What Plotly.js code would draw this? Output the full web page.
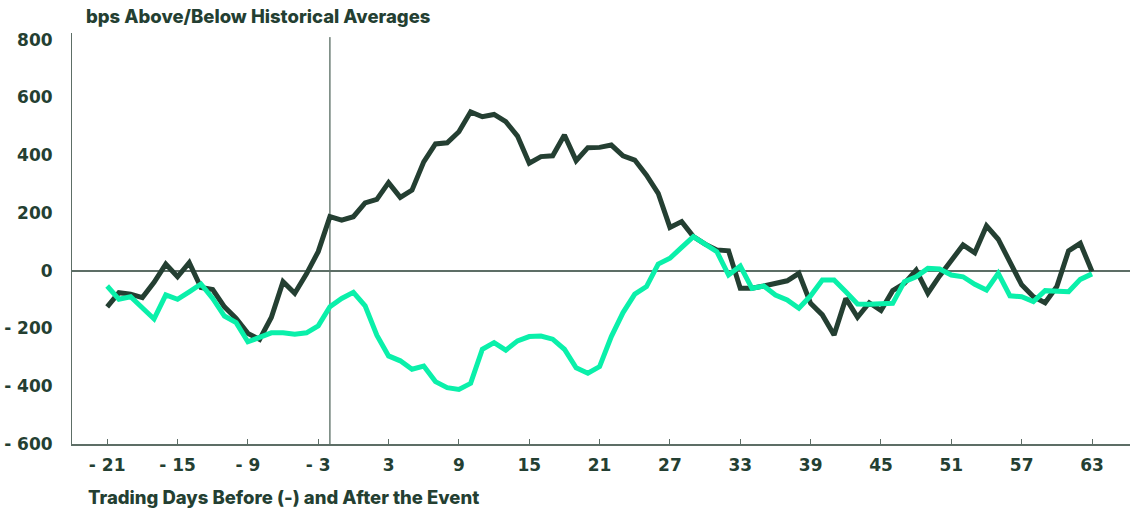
<!DOCTYPE html>
<html>
<head>
<meta charset="utf-8">
<script src="https://cdn.plot.ly/plotly-3.0.1.min.js"></script>
<style>
  html, body { margin: 0; padding: 0; background: #ffffff; }
  #chart { width: 1135px; height: 510px; }
</style>
</head>
<body>
<div id="chart"></div>
<script>
// Trading days relative to the event
const days = [];
for (let d = -21; d <= 63; d++) days.push(d);

// Dark series (bps above/below historical averages)
const seriesDark = [
  -125, -76, -81, -93, -40, 23, -21, 28, -58, -65,
  -125, -165, -217, -238, -162, -38, -78, -11, 66, 187,
  175, 187, 235, 247, 305, 254, 279, 377, 439, 443,
  481, 550, 533, 541, 516, 466, 372, 395, 398, 470,
  381, 426, 427, 435, 398, 383, 331, 268, 150, 170,
  118, 92, 72, 69, -61, -61, -53, -42, -35, -9,
  -113, -153, -223, -96, -161, -111, -138, -69, -44, 2,
  -78, -18, 37, 89, 62, 155, 109, 26, -49, -90,
  -111, -55, 69, 95, -3
];

// Bright green series
const seriesLight = [
  -53, -99, -90, -128, -167, -84, -99, -73, -46, -96,
  -157, -180, -246, -231, -215, -215, -220, -215, -191, -125,
  -96, -75, -122, -223, -295, -312, -341, -330, -384, -405,
  -411, -390, -272, -249, -275, -243, -228, -226, -237, -272,
  -336, -355, -332, -228, -145, -81, -55, 23, 43, 81,
  118, 92, 66, -15, 16, -61, -53, -84, -101, -130,
  -87, -32, -32, -73, -115, -116, -113, -113, -38, -21,
  8, 6, -15, -21, -47, -67, -9, -87, -90, -107,
  -69, -69, -73, -30, -11
];

const xTickVals = [-21, -15, -9, -3, 3, 9, 15, 21, 27, 33, 39, 45, 51, 57, 63];
const xTickText = ['- 21', '- 15', '- 9', '- 3', '3', '9', '15', '21', '27', '33', '39', '45', '51', '57', '63'];
const yTickVals = [-600, -400, -200, 0, 200, 400, 600, 800];
const yTickText = ['- 600', '- 400', '- 200', '0', '200', '400', '600', '800'];
const eventDay = -2;

const DARK = '#243f32';
const LIGHT = '#0af0aa';
const AXIS = '#5d6e66';
const FONT = 'Inter, "Open Sans", sans-serif';
const TICKFONT = '"DejaVu Sans", sans-serif';

const traces = [
  {
    x: days, y: seriesDark, type: 'scatter', mode: 'lines',
    line: { color: DARK, width: 5, shape: 'linear' },
    name: 'Dark', hoverinfo: 'x+y'
  },
  {
    x: days, y: seriesLight, type: 'scatter', mode: 'lines',
    line: { color: LIGHT, width: 5, shape: 'linear' },
    name: 'Light', hoverinfo: 'x+y'
  }
];

const layout = {
  width: 1135, height: 510,
  margin: { l: 72, r: 5, t: 33, b: 66 },
  paper_bgcolor: '#ffffff', plot_bgcolor: '#ffffff',
  showlegend: false,
  font: { family: FONT, color: DARK, size: 17, weight: 700 },
  title: {
    text: 'bps Above/Below Historical Averages',
    font: { family: FONT, color: DARK, size: 18.5, weight: 800 },
    xref: 'container', x: 86 / 1135, xanchor: 'left',
    yref: 'container', y: 1 - 17 / 510, yanchor: 'middle'
  },
  xaxis: {
    range: [-24, 66.24],
    tickvals: xTickVals, ticktext: xTickText,
    ticks: 'inside', ticklen: 5, tickwidth: 1, tickcolor: AXIS,
    showline: true, linecolor: AXIS, linewidth: 2,
    showgrid: false, zeroline: false,
    tickfont: { family: TICKFONT, color: DARK, size: 17, weight: 700 },
    ticklabelstandoff: 5
  },
  yaxis: {
    range: [-600, 823],
    tickvals: yTickVals, ticktext: yTickText,
    ticks: '', showline: true, linecolor: AXIS, linewidth: 1,
    showgrid: false,
    zeroline: true, zerolinecolor: AXIS, zerolinewidth: 2,
    tickfont: { family: TICKFONT, color: DARK, size: 17, weight: 700 },
    ticklabelstandoff: 15
  },
  shapes: [
    {
      type: 'line', xref: 'x', yref: 'paper',
      x0: eventDay, x1: eventDay, y0: 0, y1: 0.99,
      line: { color: DARK, width: 1 }, layer: 'below'
    }
  ],
  annotations: [
    {
      text: 'Trading Days Before (-) and After the Event',
      xref: 'paper', yref: 'paper',
      x: (86 - 72) / (1135 - 72 - 5), xanchor: 'left',
      y: -(497 - 444) / (510 - 33 - 66), yanchor: 'middle',
      showarrow: false,
      font: { family: FONT, color: DARK, size: 18.5, weight: 800 }
    }
  ]
};

Plotly.newPlot('chart', traces, layout, { displayModeBar: false, staticPlot: true });
</script>
</body>
</html>
